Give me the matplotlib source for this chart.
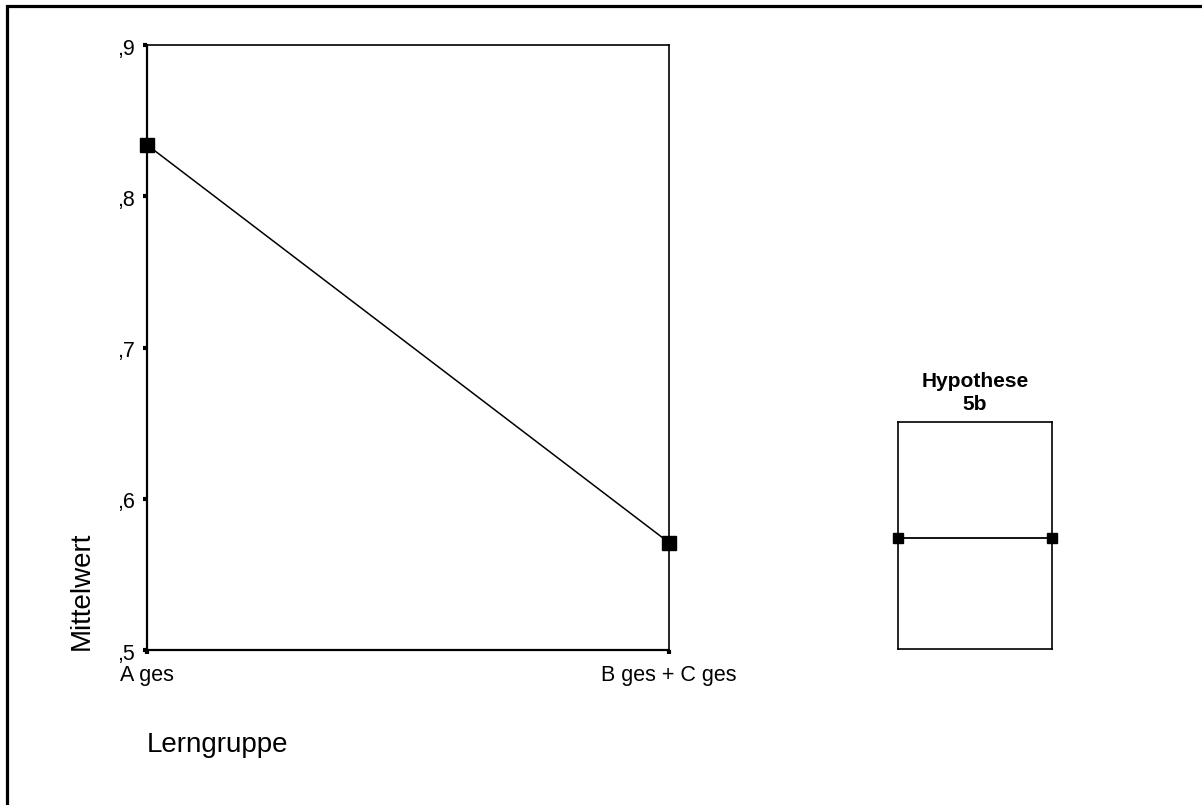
import numpy as np
import matplotlib.pyplot as plt
import matplotlib.transforms as mtransforms
from matplotlib.patches import Rectangle

# Data
groups = ['A ges', 'B ges + C ges']
means = [0.834, 0.571]
y_ticks = [0.5, 0.6, 0.7, 0.8, 0.9]
y_tick_labels = [',5', ',6', ',7', ',8', ',9']

plt.rcParams['font.family'] = ['Liberation Sans', 'DejaVu Sans']

W, H = 1202, 805
fig = plt.figure(figsize=(W / 100, H / 100), dpi=100)

def px_box(left, top, right, bottom):
    # convert pixel box to figure fractions
    return [left / W, 1 - bottom / H, (right - left) / W, (bottom - top) / H]

# Outer frame (only top and left visible in the reference)
fig.patches.append(Rectangle((7 / W, 0 - 0.05), 1.2, 1 - 6.5 / H + 0.05,
                             transform=fig.transFigure, fill=False,
                             lw=2.3, ec='black', clip_on=False))

#Main axes
ax = fig.add_axes(px_box(147, 45, 669, 650))
x = np.arange(len(groups))
ax.plot(x, means, color='black', lw=1.1, marker='s', ms=9.5,
        mfc='black', mec='black', clip_on=False, zorder=5)
ax.set_xlim(0, 1)
ax.set_ylim(0.5, 0.9)
ax.set_xticks(x)
ax.set_xticklabels(groups, fontsize=15.5)
ax.set_yticks(y_ticks)
ax.set_yticklabels(y_tick_labels, fontsize=15.5)
ax.tick_params(axis='y', direction='out', length=3, width=3, pad=6)
ax.tick_params(axis='x', direction='out', length=3, width=3, pad=8)
for s in ax.spines.values():
    s.set_linewidth(1.2)
ax.spines['left'].set_linewidth(1.6)
ax.spines['bottom'].set_linewidth(1.6)

#Shift y tick labels a little down like the original
offset = mtransforms.ScaledTranslation(0, -1.5 / 100, fig.dpi_scale_trans)
for lab in ax.get_yticklabels():
    lab.set_transform(lab.get_transform() + offset)

fig.text(82 / W, 1 - 650 / H, 'Mittelwert', rotation=90, fontsize=20,
         ha='center', va='bottom')
fig.text(147 / W, 1 - 745 / H, 'Lerngruppe', fontsize=20,
         ha='left', va='center')

# Legend box
lax = fig.add_axes(px_box(898, 422, 1052, 649))
lax.plot([0, 1], [0.49, 0.49], color='black', lw=1.3, marker='s', ms=6.5,
         clip_on=False)
lax.set_xlim(0, 1)
lax.set_ylim(0, 1)
lax.set_xticks([])
lax.set_yticks([])
for s in lax.spines.values():
    s.set_linewidth(1.2)
fig.text(975 / W, 1 - 387 / H, 'Hypothese', fontsize=15, fontweight='bold',
         ha='center', va='baseline')
fig.text(975 / W, 1 - 410 / H, '5b', fontsize=15, fontweight='bold',
         ha='center', va='baseline')

fig.savefig('out.png', dpi=100)
